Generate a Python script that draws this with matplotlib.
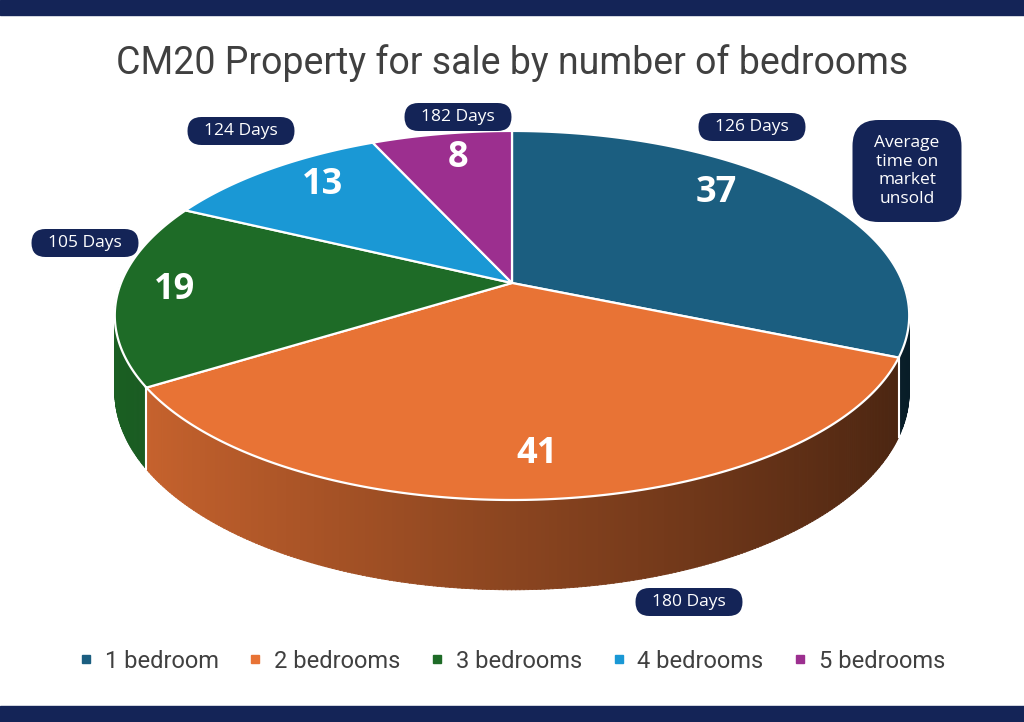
import numpy as np
import matplotlib.pyplot as plt
from matplotlib.patches import Polygon, FancyBboxPatch, Rectangle
from matplotlib.lines import Line2D
from matplotlib.colors import to_rgb

# data
bedrooms = ["1 bedroom", "2 bedrooms", "3 bedrooms", "4 bedrooms", "5 bedrooms"]
counts = [37, 41, 19, 13, 8]
days_on_market = [126, 180, 105, 124, 182]
colors = ["#1b5e80", "#e87335", "#1e6b27", "#1a98d5", "#9c2f8f"]

# layout (pixel coords, y down)
CX, CY = 512, 283
RX, RY = 391, 178.8
K = 0.176
DEPTH = 74
value_label_xy = [(716, 193), (537, 454), (175, 290), (323, 185), (458, 158)]
days_box_xy = [(752, 127), (689, 602), (85, 243), (241, 131), (458, 117)]
NAVY = "#142457"
GREY = "#404040"


def proj(t, r=1.0):
    u = r * np.cos(t)
    v = r * np.sin(t)
    d = 1 - K * v
    return CX + RX * u / d, CY + RY * v / d


def shade(c, f):
    return tuple(min(1, x * f) for x in to_rgb(c))


fig = plt.figure(figsize=(10.24, 7.22), dpi=100)
ax = fig.add_axes([0, 0, 1, 1])
ax.set_xlim(0, 1024)
ax.set_ylim(722, 0)
ax.axis("off")

# navy bands
ax.add_patch(Rectangle((0, 0), 1024, 15, color=NAVY, zorder=0))
ax.add_patch(Rectangle((0, 706), 1024, 16, color=NAVY, zorder=0))

# slice angles, start at 12 o'clock, clockwise on screen
total = sum(counts)
edges = -90 + 360 * np.cumsum([0] + counts) / total


def slice_of(deg):
    deg = (deg + 90) % 360 - 90
    for i in range(len(counts)):
        if edges[i] <= deg < edges[i + 1]:
            return i
    return len(counts) - 1


# side wall
steps = np.arange(0, 180, 0.5)
quads = []
for a in steps:
    t0, t1 = np.radians(a), np.radians(a + 0.6)
    x0, y0 = proj(t0)
    x1, y1 = proj(t1)
    d0 = DEPTH / (1 - K * np.sin(t0))
    d1 = DEPTH / (1 - K * np.sin(t1))
    i = slice_of(a + 0.25)
    f = 0.6 - 0.3 * np.cos(t0)
    quads.append((np.sin(t0), [(x0, y0), (x1, y1), (x1, y1 + d1), (x0, y0 + d0)], shade(colors[i], f)))
quads.sort(key=lambda q: q[0])
for _, pts, c in quads:
    ax.add_patch(Polygon(pts, closed=True, fc=c, ec=c, lw=0.6, zorder=2))

# white seams on the side wall
for e in edges:
    a = (e + 90) % 360 - 90
    if 8 < a < 172:
        t = np.radians(a)
        x, y = proj(t)
        ax.plot([x, x], [y, y + DEPTH / (1 - K * np.sin(t))], color="white", lw=1.5, zorder=3)

# top face
for i in range(len(counts)):
    ts = np.radians(np.linspace(edges[i], edges[i + 1], 200))
    xs, ys = proj(ts)
    pts = [(CX, CY)] + list(zip(xs, ys))
    ax.add_patch(Polygon(pts, closed=True, fc=colors[i], ec="white", lw=1.6, zorder=4))

# value labels
for (x, y), n in zip(value_label_xy, counts):
    ax.text(x, y, str(n), color="white", fontsize=26, fontweight="bold",
            family="Open Sans", ha="center", va="center", zorder=6)

# days labels
for (x, y), d in zip(days_box_xy, days_on_market):
    w, h = 107, 28
    ax.add_patch(FancyBboxPatch((x - w / 2 + 14, y - h / 2 + 14), w - 28, h - 28,
                                boxstyle="round,pad=14", fc=NAVY, ec="none", zorder=7))
    ax.text(x, y, f"{d} Days", color="white", fontsize=12.5, family="Open Sans",
            ha="center", va="center", zorder=8)

# note box
bx, by, bw, bh = 907, 171, 109, 102
ax.add_patch(FancyBboxPatch((bx - bw / 2 + 26, by - bh / 2 + 26), bw - 52, bh - 52,
                            boxstyle="round,pad=26", fc=NAVY, ec="none", zorder=7))
ax.text(bx, by, "Average\ntime on\nmarket\nunsold", color="white", fontsize=12.5,
        family="Open Sans", ha="center", va="center", linespacing=1.2, zorder=8)

# title
ax.text(512, 63, "CM20 Property for sale by number of bedrooms", color=GREY,
        fontsize=27, family="Roboto", ha="center", va="center", zorder=8)

# legend
handles = [Line2D([], [], marker="s", ls="none", color=c, markersize=6) for c in colors]
ax.legend(handles, bedrooms, loc="center", bbox_to_anchor=(0.5, 1 - 661 / 722),
          ncol=5, frameon=False, handlelength=0.6, handletextpad=0.5, columnspacing=1.25,
          prop={"family": "Roboto", "size": 17}, labelcolor=GREY)

fig.savefig("out.png", dpi=100)
